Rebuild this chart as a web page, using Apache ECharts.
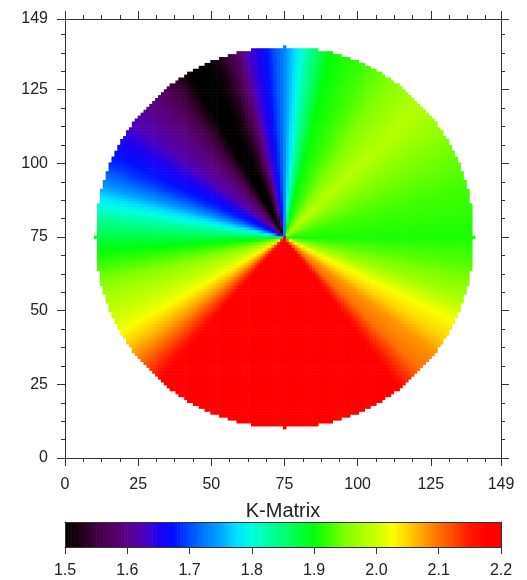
<!DOCTYPE html>
<html>
<head>
<meta charset="utf-8">
<script src="https://cdn.jsdelivr.net/npm/echarts@6/dist/echarts.min.js"></script>
<style>
html,body{margin:0;padding:0;background:#fff;}
#chart{width:527px;height:580px;}
</style>
</head>
<body>
<div id="chart"></div>
<script>
// ---- data ----
// grid size (cells per side) and axis range
const N_CELLS = 150;
const AXIS_MAX = 149;
const CENTER = [75, 75];
const RADIUS = 65;
// angular profile of K (degrees counter-clockwise from +x)
const PROFILE_ANGLE = [0, 15, 30, 44, 55, 65, 76, 82, 86, 91, 97, 101, 105, 110, 114, 120, 126, 133, 142, 151, 158, 163, 168, 175, 184, 195, 209, 218, 225, 232, 268, 305, 310, 316, 323, 328, 335, 342, 351, 360];
const PROFILE_VALUE = [1.91, 1.925, 1.95, 1.985, 1.955, 1.925, 1.90, 1.84, 1.785, 1.72, 1.66, 1.63, 1.57, 1.52, 1.50, 1.50, 1.55, 1.59, 1.62, 1.66, 1.69, 1.73, 1.78, 1.84, 1.90, 1.96, 2.02, 2.08, 2.14, 2.20, 2.20, 2.20, 2.15, 2.10, 2.08, 2.05, 2.02, 1.97, 1.935, 1.91];
// tick labels
const XY_TICKS = [0, 25, 50, 75, 100, 125, 149];
const CBAR_TICKS = ['1.5', '1.6', '1.7', '1.8', '1.9', '2.0', '2.1', '2.2'];
const CBAR_MIN = 1.5, CBAR_MAX = 2.2;
const CMAP = ['#000000','#220018','#400040','#540060','#5a0088','#5000b8','#2000f0','#0010ff','#004cff','#007cff','#00a8ff','#00e0ff','#00ffe0','#00ffa8','#00ff78','#00ff40','#00ff08','#40ff00','#80ff00','#a8ff00','#ccff00','#f8ff00','#ffd400','#ffa000','#ff7000','#ff4400','#ff1800','#ff0000','#ff0000'];

function profileAt(deg) {
  for (let k = 0; k < PROFILE_ANGLE.length - 1; k++) {
    const a0 = PROFILE_ANGLE[k], a1 = PROFILE_ANGLE[k + 1];
    if (deg >= a0 && deg <= a1) {
      const t = (deg - a0) / (a1 - a0);
      return PROFILE_VALUE[k] + t * (PROFILE_VALUE[k + 1] - PROFILE_VALUE[k]);
    }
  }
  return PROFILE_VALUE[0];
}

const cells = [];
for (let i = 0; i < N_CELLS; i++) {
  for (let j = 0; j < N_CELLS; j++) {
    const dx = i - CENTER[0], dy = j - CENTER[1];
    if (dx * dx + dy * dy > RADIUS * RADIUS) continue;
    let deg = Math.atan2(dy, dx) * 180 / Math.PI;
    if (deg < 0) deg += 360;
    let v = (dx === 0 && dy === 0) ? 2.2 : profileAt(deg);
    v = Math.min(CBAR_MAX, Math.max(CBAR_MIN, v));
    cells.push([i, j, v]);
  }
}

const CB_STEP = 0.005;
const cbar = [];
for (let v = CBAR_MIN; v < CBAR_MAX - 1e-9; v += CB_STEP) {
  cbar.push([v, 0, Math.min(CBAR_MAX, v + CB_STEP / 2)]);
}

const FONT = 'Liberation Sans, Arial, Helvetica, sans-serif';
const AX = '#333';
const CELL = AXIS_MAX / N_CELLS;

function plotAxis(pos, gridIndex, showLabel) {
  const horiz = (pos === 'bottom' || pos === 'top');
  return {
    type: 'value', gridIndex: gridIndex, position: pos,
    min: 0, max: AXIS_MAX, interval: 25,
    z: 5,
    axisLine: {show: true, onZero: false, lineStyle: {color: AX, width: 1}},
    axisTick: {show: true, length: 8, lineStyle: {color: AX}},
    minorTick: {show: true, splitNumber: 4, length: 4, lineStyle: {color: AX}},
    splitLine: {show: false},
    axisLabel: {show: showLabel, fontSize: 16, color: '#222', fontFamily: FONT, margin: horiz ? 19 : 17,
      customValues: XY_TICKS, showMaxLabel: true, showMinLabel: true}
  };
}

const chart = echarts.init(document.getElementById('chart'), null, {renderer: 'canvas'});
chart.setOption({
  animation: false,
  backgroundColor: '#fff',
  grid: [
    {left: 65, top: 19, width: 436, height: 439},
    {left: 65, top: 522, width: 436, height: 25}
  ],
  xAxis: [
    plotAxis('bottom', 0, true),
    plotAxis('top', 0, false),
    {
      type: 'value', gridIndex: 1, position: 'bottom', min: CBAR_MIN, max: CBAR_MAX, interval: 0.1, z: 5,
      axisLine: {show: true, onZero: false, lineStyle: {color: AX}},
      axisTick: {show: true, length: 7, lineStyle: {color: AX}},
      splitLine: {show: false},
      axisLabel: {fontSize: 16, color: '#222', fontFamily: FONT, margin: 16,
        formatter: function (v) { const s = v.toFixed(1); return CBAR_TICKS.indexOf(s) >= 0 ? s : ''; }}
    },
    {
      type: 'value', gridIndex: 1, position: 'top', min: CBAR_MIN, max: CBAR_MAX, z: 5,
      name: 'K-Matrix', nameLocation: 'middle', nameGap: 1,
      nameTextStyle: {fontSize: 20, color: '#222', fontFamily: FONT},
      axisLine: {show: true, onZero: false, lineStyle: {color: AX}},
      axisTick: {show: false}, axisLabel: {show: false}, splitLine: {show: false}
    }
  ],
  yAxis: [
    plotAxis('left', 0, true),
    plotAxis('right', 0, false),
    {type: 'value', gridIndex: 1, position: 'left', min: 0, max: 1, z: 5,
      axisLine: {show: true, onZero: false, lineStyle: {color: AX}}, axisTick: {show: false}, axisLabel: {show: false}, splitLine: {show: false}},
    {type: 'value', gridIndex: 1, position: 'right', min: 0, max: 1, z: 5,
      axisLine: {show: true, onZero: false, lineStyle: {color: AX}}, axisTick: {show: false}, axisLabel: {show: false}, splitLine: {show: false}}
  ],
  visualMap: {
    type: 'continuous', show: false, min: CBAR_MIN, max: CBAR_MAX, dimension: 2,
    seriesIndex: [0, 1], inRange: {color: CMAP}
  },
  series: [
    {
      type: 'custom', xAxisIndex: 0, yAxisIndex: 0, progressive: 0,
      data: cells,
      renderItem: function (params, api) {
        const i = api.value(0), j = api.value(1);
        const p0 = api.coord([i * CELL, (j + 1) * CELL]);
        const p1 = api.coord([(i + 1) * CELL, j * CELL]);
        return {type: 'rect',
          shape: {x: p0[0], y: p0[1], width: p1[0] - p0[0] + 0.6, height: p1[1] - p0[1] + 0.6},
          style: {fill: api.visual('color')}};
      }
    },
    {
      type: 'custom', xAxisIndex: 2, yAxisIndex: 2, progressive: 0,
      data: cbar,
      renderItem: function (params, api) {
        const v = api.value(0);
        const p0 = api.coord([v, 1]);
        const p1 = api.coord([Math.min(CBAR_MAX, v + CB_STEP), 0]);
        return {type: 'rect',
          shape: {x: p0[0], y: p0[1], width: p1[0] - p0[0] + 0.6, height: p1[1] - p0[1]},
          style: {fill: api.visual('color')}};
      }
    }
  ]
});
</script>
</body>
</html>
